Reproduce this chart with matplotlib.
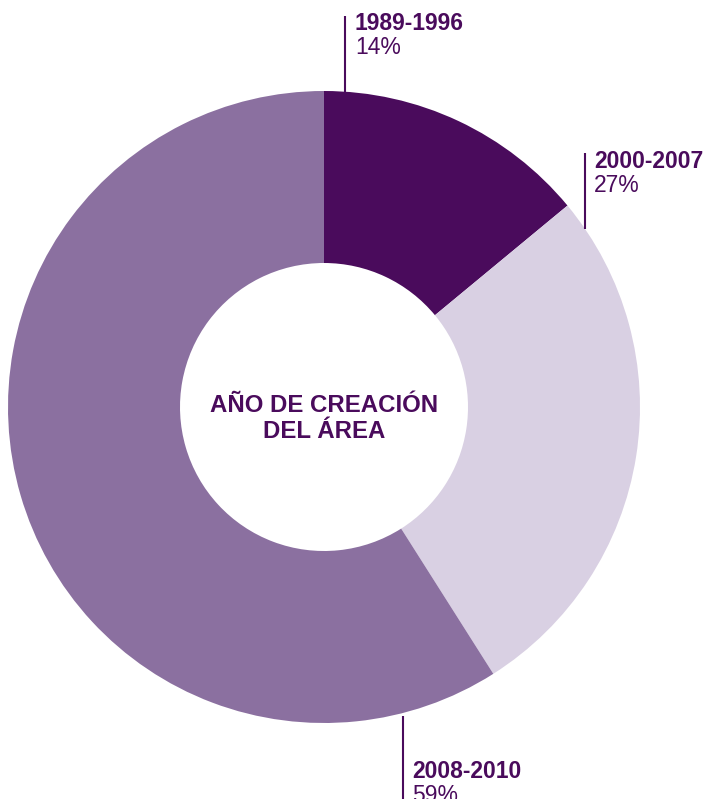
import matplotlib.pyplot as plt

plt.rcParams['font.family'] = ['Liberation Sans', 'DejaVu Sans']

periods = ['1989-1996', '2000-2007', '2008-2010']
shares = [14, 27, 59]
colors = ['#4a0b5c', '#d9d0e3', '#8b70a0']
title_lines = ['AÑO DE CREACIÓN', 'DEL ÁREA']
dark = '#4a0b5c'

W, H = 706, 799
fig = plt.figure(figsize=(W / 100, H / 100), dpi=100)
ax = fig.add_axes([0, 0, 1, 1])

cx, cy = 324, H - 407
r_out, r_in = 316, 144
ax.pie(shares, colors=colors, startangle=90, counterclock=False,
       radius=r_out, center=(cx, cy), frame=True,
       wedgeprops=dict(width=r_out - r_in, linewidth=0))
ax.set_xlim(0, W)
ax.set_ylim(0, H)
ax.set_aspect('equal')
ax.axis('off')

# leader lines and labels (x, line top, line bottom, text x, text top)
callouts = [(345, 16, 92, 355, 12),
            (585, 153, 229, 594, 150),
            (403, 716, 799, 412, 760)]
for (lx, y0, y1, tx, ty), name, val in zip(callouts, periods, shares):
    ax.plot([lx, lx], [H - y0, H - y1], color=dark, lw=1.5,
            solid_capstyle='butt')
    ax.text(tx, H - ty, name, color=dark, fontsize=16.5, fontweight='bold',
            ha='left', va='top')
    ax.text(tx, H - ty - 24, f'{val}%', color=dark, fontsize=16.5,
            ha='left', va='top')

ax.text(cx, H - 405, title_lines[0], color=dark, fontsize=17.3,
        fontweight='bold', ha='center', va='center')
ax.text(cx, H - 432, title_lines[1], color=dark, fontsize=17.3,
        fontweight='bold', ha='center', va='center')

fig.savefig('out.png', dpi=100, facecolor='white')
